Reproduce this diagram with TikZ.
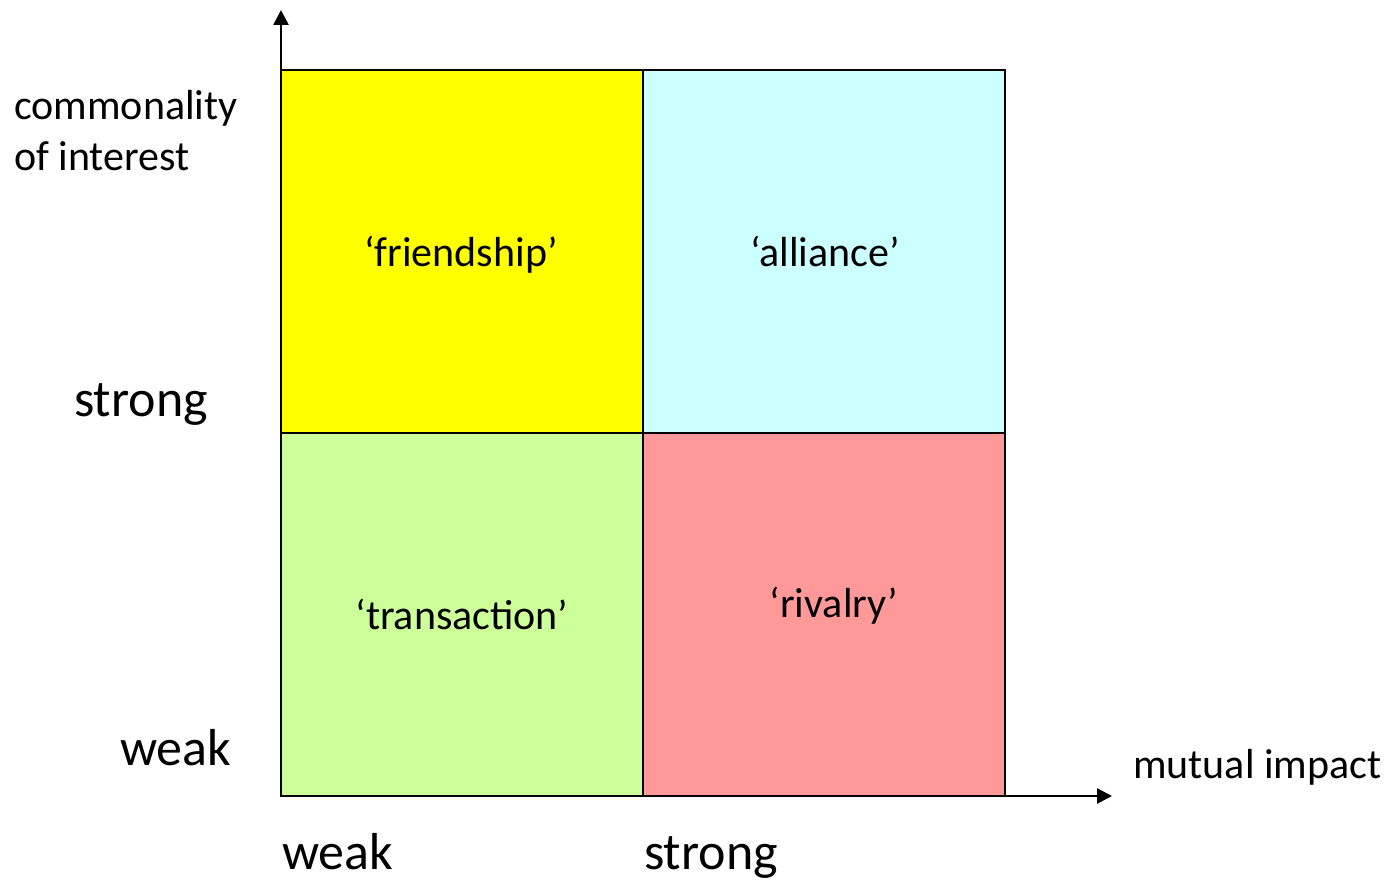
\documentclass[tikz,border=0pt]{standalone}
\usepackage{fontspec}
\setmainfont{Carlito}
\usetikzlibrary{arrows.meta}
\definecolor{cyellow}{HTML}{FFFF00}
\definecolor{ccyan}{HTML}{CCFFFF}
\definecolor{cgreen}{HTML}{CCFF99}
\definecolor{cred}{HTML}{FF9999}
\tikzset{
  cell/.style={draw=black, line width=1.6pt, minimum width=362pt, minimum height=363pt, inner sep=0pt, outer sep=0pt, anchor=north west},
  lbl/.style={inner sep=0pt, font=\fontsize{42}{50}\selectfont},
  big/.style={inner sep=0pt, font=\fontsize{52}{60}\selectfont, anchor=base west},
  axis/.style={line width=2.6pt, -{Triangle[length=15pt,width=15pt]}}
}
\begin{document}
\begin{tikzpicture}[x=1pt,y=-1pt]
\useasboundingbox (0,0) rectangle (1388,880);
\node[cell, fill=cyellow] (fr) at (281,70) {};
\node[cell, fill=ccyan] (al) at (643,70) {};
\node[cell, fill=cgreen] (tr) at (281,433) {};
\node[cell, fill=cred] (ri) at (643,433) {};
\coordinate (o) at (281,796);
\coordinate (yt) at (281,10);
\coordinate (xt) at (1112,796);
\draw[axis] (o) -- (yt);
\draw[axis] (o) -- (xt);
\node[lbl, anchor=base] (tf) at (461,266) {‘friendship’};
\node[lbl, anchor=base] (ta) at (825,266) {‘alliance’};
\node[lbl, anchor=base] (tt) at (462,629) {‘transaction’};
\node[lbl, anchor=base] (trv) at (834,617) {‘rivalry’};
\node[lbl, anchor=base west] (c1) at (14,120) {commonality};
\node[lbl, anchor=base west] (c2) at (14,170) {of interest};
\node[lbl, anchor=base west] (mi) at (1133,778) {mutual impact};
\node[big] (ys) at (74,416) {strong};
\node[big] (yw) at (120,765) {weak};
\node[big] (xw) at (282,869) {weak};
\node[big] (xs) at (644,869) {strong};
\end{tikzpicture}
\end{document}
